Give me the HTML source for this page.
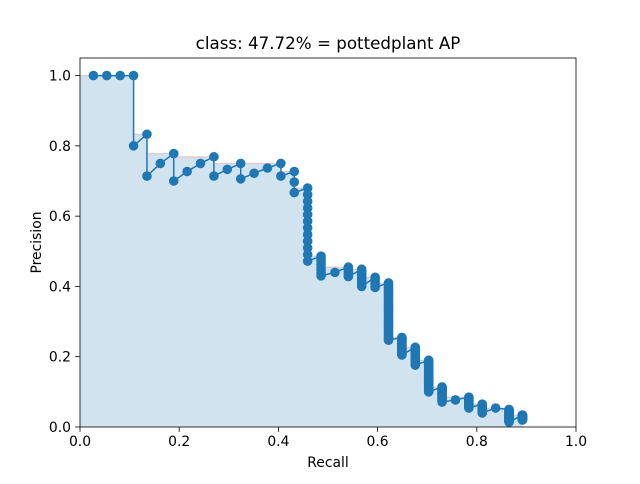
<!DOCTYPE html>
<html><head><meta charset="utf-8"><style>
body{margin:0;background:#fff;font-family:"DejaVu Sans","Liberation Sans",sans-serif}
</style></head><body>
<svg id="chart" width="640" height="480" xmlns="http://www.w3.org/2000/svg" font-family="DejaVu Sans, Liberation Sans, sans-serif">
<rect width="640" height="480" fill="#fff"/>
<g id="plot"></g>
</svg>
<script>
const colRecall=[0.027,0.054,0.081,0.108,0.135,0.162,0.189,0.216,0.243,0.270,0.297,0.324,0.351,0.378,0.405,0.432,0.459,0.486,0.514,0.541,0.568,0.595,0.622,0.649,0.676,0.703,0.730,0.757,0.784,0.811,0.838,0.865,0.892];
const colTop=[1,1,1,1,0.833,0.75,0.778,0.727,0.75,0.769,0.733,0.75,0.722,0.737,0.75,0.727,0.68,0.486,0.44,0.455,0.449,0.426,0.41,0.255,0.227,0.19,0.114,0.077,0.085,0.065,0.054,0.05,0.034];
const colBottom=[1,1,1,0.8,0.714,0.75,0.7,0.727,0.75,0.714,0.733,0.706,0.722,0.737,0.714,0.667,0.472,0.43,0.44,0.428,0.40,0.397,0.247,0.205,0.176,0.10,0.071,0.077,0.054,0.04,0.054,0.014,0.02];
const colCount=[1,1,1,2,2,1,2,1,1,2,1,2,1,1,2,3,12,8,1,5,8,6,38,24,14,40,20,1,15,20,1,30,40];
const xTicks=["0.0","0.2","0.4","0.6","0.8","1.0"];
const yTicks=["0.0","0.2","0.4","0.6","0.8","1.0"];
const L=80,R=576,T=58,B=427;
const X=v=>L+(R-L)*v/1.0;
const Y=v=>B-(B-T)*v/1.05;
const NS="http://www.w3.org/2000/svg";
const g=document.getElementById('plot');
function mk(tag,attrs,parent){const e=document.createElementNS(NS,tag);for(const k in attrs)e.setAttribute(k,attrs[k]);(parent||g).appendChild(e);return e;}
const env=[];let m=0;
for(let i=colRecall.length-1;i>=0;i--){m=Math.max(m,colTop[i]);env[i]=m;}
const n=colRecall.length;
let dl=`M${X(0)},${Y(env[0])}`;
for(let i=0;i<n;i++){dl+=` L${X(colRecall[i])},${Y(env[i])}`;if(i<n-1)dl+=` L${X(colRecall[i])},${Y(env[i+1])}`;}
const d=`M${X(0)},${Y(0)} L`+dl.slice(1)+` L${X(colRecall[n-1])},${Y(0)} Z`;
const fill=mk('path',{d:d,fill:'#d2e3f0',stroke:'none'});


const envL=mk('path',{d:dl,fill:'none',stroke:'#e8a0a0','stroke-opacity':'0.5','stroke-width':'1.2'});


let pts=[];
for(let i=0;i<n;i++){pts.push(`${X(colRecall[i])},${Y(colTop[i])}`);pts.push(`${X(colRecall[i])},${Y(colBottom[i])}`);}
const line=mk('polyline',{points:pts.join(' '),fill:'none',stroke:'#1f77b4','stroke-width':'1.5'});


for(let i=0;i<n;i++){
  const c=colCount[i];
  for(let k=0;k<c;k++){
    const p=c>1?colTop[i]+(colBottom[i]-colTop[i])*k/(c-1):colTop[i];
    const dot=mk('circle',{cx:X(colRecall[i]),cy:Y(p),r:4.8,fill:'#1f77b4'});
    
    
  }
}
const fr=mk('rect',{x:L,y:T,width:R-L,height:B-T,fill:'none',stroke:'#000','stroke-width':'0.8'});


xTicks.forEach((t,i)=>{const x=X(i*0.2);
  const tk=mk('line',{x1:x,y1:B,x2:x,y2:B+4.9,stroke:'#000','stroke-width':'0.8'});
  
  
  const tx=mk('text',{x:x,y:B+19,'text-anchor':'middle','font-size':'13.9'});tx.textContent=t;
  
  
});
yTicks.forEach((t,i)=>{const y=Y(i*0.2);
  const tk=mk('line',{x1:L-4.9,y1:y,x2:L,y2:y,stroke:'#000','stroke-width':'0.8'});
  
  
  const tx=mk('text',{x:L-9,y:y+5,'text-anchor':'end','font-size':'13.9'});tx.textContent=t;
  
  
});
const xt=mk('text',{x:(L+R)/2,y:467,'text-anchor':'middle','font-size':'13.9'});xt.textContent='Recall';


const yt=mk('text',{x:0,y:0,'text-anchor':'middle','font-size':'13.9',transform:`translate(41,${(T+B)/2}) rotate(-90)`});yt.textContent='Precision';


const tt=mk('text',{x:(L+R)/2,y:49,'text-anchor':'middle','font-size':'16.7'});tt.textContent='class: 47.72% = pottedplant AP';


</script>
</body></html>
